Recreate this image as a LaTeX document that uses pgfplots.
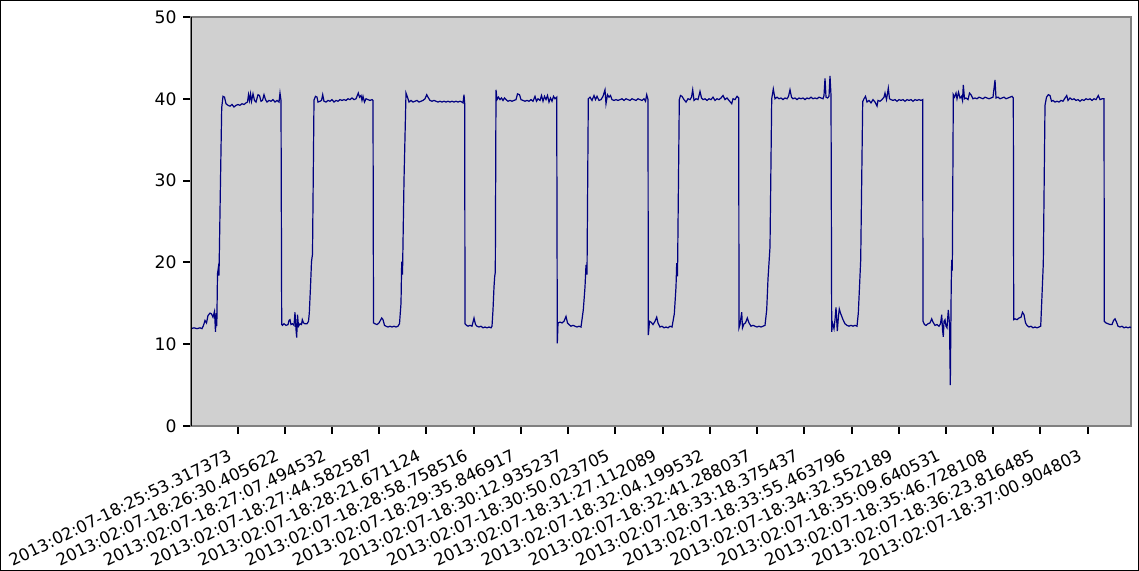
\documentclass[border=0pt]{standalone}
\usepackage{fontspec}
\setmainfont{DejaVu Sans}
\usepackage{pgfplots}
\pgfplotsset{compat=1.18}
\definecolor{bgc}{RGB}{208,208,208}
\definecolor{frm}{RGB}{128,128,128}
\definecolor{ln}{RGB}{0,0,128}
\begin{document}
\begin{tikzpicture}
\begin{axis}[
  at={(95.5pt,72.5pt)}, anchor=south west,
  scale only axis, width=470pt, height=204.5pt,
  xmin=191, xmax=1131, ymin=0, ymax=50,
  axis background/.style={fill=bgc},
  axis line style={draw=frm, line width=1pt},
  tick style={black, line width=1pt},
  major tick length=4pt,
  tick align=outside,
  xtick pos=bottom, ytick pos=left,
  ytick={0,10,...,50},
  xtick={237.5,284.73,331.96,379.19,426.42,473.65,520.88,568.11,615.34,662.57,709.8,757.03,804.26,851.49,898.72,945.95,993.18,1040.41,1087.64},
  xticklabels={2013:02:07-18:25:53.317373,2013:02:07-18:26:30.405622,2013:02:07-18:27:07.494532,2013:02:07-18:27:44.582587,2013:02:07-18:28:21.671124,2013:02:07-18:28:58.758516,2013:02:07-18:29:35.846917,2013:02:07-18:30:12.935237,2013:02:07-18:30:50.023705,2013:02:07-18:31:27.112089,2013:02:07-18:32:04.199532,2013:02:07-18:32:41.288037,2013:02:07-18:33:18.375437,2013:02:07-18:33:55.463796,2013:02:07-18:34:32.552189,2013:02:07-18:35:09.640531,2013:02:07-18:35:46.728108,2013:02:07-18:36:23.816485,2013:02:07-18:37:00.904803},
  /pgf/number format/assume math mode=true,
  yticklabel style={font=\fontsize{8.6}{10}\selectfont, xshift=-3pt, anchor=east, inner sep=0pt},
  xticklabel style={font=\fontsize{8.3}{10}\selectfont, xshift=-5pt, yshift=-7pt, rotate=26, anchor=north east, inner sep=0pt},
]
\addplot[ln, line width=0.6pt] coordinates {
(191,11.9)(194,12.0)(197,11.9)(200,12.0)(202,11.9)(203.5,12.3)(205,12.9)(206.5,12.6)(208,13.5)(210,13.8)(211.5,13.7)(213,13.3)(214.5,14.0)(215.5,11.5)(216.2,13.8)(216.8,12.2)(217.5,18.6)(218.3,19.3)(219,18.4)(220.5,30)(221.7,38.9)(223,40.3)(224.5,40.2)(226,39.4)(228,39.2)(230,39.1)(232,39.3)(234,39.0)(236,39.2)(238,39.3)(240,39.2)(242,39.4)(244,39.3)(246,39.5)(247.5,39.6)(248.5,40.5)(249.5,39.8)(250.5,40.6)(251.5,39.7)(253,40.6)(254.5,39.8)(256,39.6)(258,40.5)(259.5,40.4)(261,39.7)(262.5,39.8)(264,40.5)(265.5,39.9)(267,39.6)(269,39.8)(271,39.7)(273,39.9)(275,39.6)(277,39.8)(279,39.6)(280,40.7)(281,39.8)(281.7,12.4)
(282.5,12.3)(284,12.5)(286,12.3)(288,12.4)(289,12.9)(290,13.0)(291,12.4)(292.5,12.5)(294,12.3)(295,13.9)(296,11.8)(296.7,10.8)(297.5,13.6)(298.5,12.2)(300,12.5)(301.5,12.4)(302.3,13.0)(303.5,12.6)(305,12.5)(307,12.5)(308.5,12.8)(309.3,13.8)(310.5,17)(311.5,20.1)(312.5,21)(314,39.85)(315.5,40.3)(317,40.2)(318,39.6)(320,39.7)(321.5,39.8)(322.7,40.5)(324,39.7)(326,39.6)(328,39.8)(330,39.7)(332,39.9)(334,39.6)(336,39.8)(338,39.7)(340,39.9)(342,39.8)(344,39.9)(346,39.8)(348,40.0)(350,39.9)(352,40.1)(354,39.9)(356,40.0)(358.3,40.7)(359.5,40.2)(361,40.4)(362,39.8)(363,40.3)(364.5,39.6)(366,40.0)(368,39.9)(370,39.8)(372,39.9)(373,39.8)(373.5,12.6)
(375,12.5)(377,12.4)(379,12.6)(381.7,13.2)(383,13.0)(384.5,12.3)(386,12.2)(388,12.1)(390,12.2)(392,12.1)(394,12.2)(396,12.1)(398,12.2)(399.5,12.5)(401,15)(401.7,20.1)(402.5,18.5)(404,30)(406,40.7)(407.5,40.2)(409,39.6)(411,39.8)(413,39.6)(415,39.7)(417,39.8)(419,39.6)(421,39.7)(423,39.8)(425,40.0)(426.7,40.5)(428,40.2)(430,39.8)(432,39.7)(434,39.8)(436,39.7)(438,39.6)(440,39.7)(442,39.6)(444,39.7)(446,39.6)(448,39.7)(450,39.6)(452,39.7)(454,39.6)(456,39.7)(458,39.6)(460,39.7)(462,39.6)(463,39.5)(464,40.5)(464.7,39.4)(465,12.5)
(466.5,12.3)(468,12.2)(470,12.3)(472,12.2)(474,13.2)(475.5,12.4)(477,12.2)(479,12.1)(481,12.2)(483,12.0)(485,12.1)(487,12.0)(489,12.1)(491,12.0)(492,12.2)(493,14.2)(494,17)(494.7,18.3)(495.3,18.8)(496,41.1)(497,39.9)(498.5,40.2)(500,39.9)(501.5,40.1)(503,39.8)(504.5,40.1)(506,39.9)(508,39.7)(510,39.8)(512,39.7)(514,39.8)(516,39.9)(517.5,40.6)(519.5,40.5)(521,39.9)(523,39.8)(525,39.7)(527,39.8)(529,39.7)(531,39.9)(533,39.7)(535,40.3)(536.5,39.7)(538,40.0)(540,39.8)(541.5,40.4)(543,39.7)(544.5,40.3)(546,39.9)(547.5,40.4)(549,39.6)(550.5,40.1)(552,39.7)(553.5,40.3)(555,40.0)(556.7,40.2)
(557.3,10.1)(558,12.6)(560,12.7)(562,12.6)(564,12.8)(566,13.4)(567.5,12.6)(569,12.4)(571,12.2)(573,12.3)(575,12.2)(577,12.1)(579,12.2)(581,12.1)(583.3,14.2)(585,17)(586,19.7)(587,18.5)(588.3,40.0)(590,40.2)(592,39.8)(594,40.4)(595.5,39.9)(597,40.3)(599,39.8)(601,39.9)(603,40.3)(605,41.1)(606,39.4)(607.5,40.5)(609,40.2)(610.5,40.4)(612,39.9)(614,39.8)(616,39.9)(618,39.8)(620,39.9)(622,40.0)(624,39.8)(626,40.0)(628,39.9)(630,39.8)(632,40.0)(634,39.9)(636,39.8)(638,40.0)(640,39.9)(642,39.8)(644,40.0)(645.5,39.7)(646.7,40.5)(648,39.9)(648.3,11.1)
(649.5,12.8)(651,12.7)(653,12.4)(655,12.8)(656.7,13.3)(658,12.6)(660,12.1)(662,12.2)(664,12.0)(666,12.1)(668,12.0)(670,12.2)(672,12.1)(674.3,13.7)(676,17)(676.7,19.9)(677.5,18.3)(679.3,39.9)(680.5,40.4)(682,40.3)(684,39.9)(686,39.6)(688,40.0)(690,39.9)(691.5,40.2)(692.7,41.1)(694,39.8)(696,40.0)(698,39.9)(700,40.9)(701.5,40.1)(703,39.9)(705,40.0)(707,39.8)(709,40.0)(711,39.9)(713,40.2)(715,39.8)(717,40.0)(719,39.9)(721,40.1)(723,40.4)(725,39.9)(727,40.1)(729,39.8)(731.7,39.4)(733,40.0)(735,39.9)(737,40.3)(738.7,40.1)(739,12.0)
(740,12.4)(741.7,13.9)(742.5,12.0)(744,12.5)(745.5,12.6)(747.3,13.2)(749,12.6)(751,12.2)(753,12.3)(755,12.2)(757,12.1)(759,12.2)(761,12.1)(763,12.2)(765,12.3)(766.7,14.2)(768,18)(770,21.9)(771.7,40.0)(773.3,41.2)(775,40.0)(777,40.2)(779,40.0)(781,40.1)(783,39.9)(785,40.1)(787,40.0)(788.5,40.3)(790,41.1)(791.5,40.2)(793,40.0)(795,40.1)(797,39.9)(799,40.1)(801,40.0)(803,40.1)(805,39.9)(807,40.1)(809,40.0)(811,40.2)(813,40.0)(815,40.1)(817,40.0)(819,40.2)(821,40.1)(823,40.0)(824,40.4)(825,42.5)(826,40.2)(827.5,40.1)(829,40.3)(830,42.8)(831,40.4)(831.7,11.5)
(832.5,12.6)(834,11.9)(835,13.0)(836,14.5)(837.3,11.6)(838.5,13.5)(839.3,14.3)(840.5,13.8)(843,13.0)(845,12.5)(847,12.3)(849,12.2)(851,12.3)(853,12.2)(855,12.3)(857,12.2)(858.3,13.8)(859.5,17)(860.7,20.3)(861.7,30)(862.7,39.65)(864,40.0)(865.5,40.3)(867,39.6)(869,39.8)(871,39.5)(873,39.9)(875,39.6)(877,39.1)(878,39.8)(880,39.7)(882,39.9)(884,40.2)(885,40.7)(886.5,39.9)(888.3,41.3)(889.5,40.0)(891,39.9)(893,39.8)(895,39.9)(897,39.7)(899,39.9)(901,39.8)(903,39.9)(905,39.7)(907,39.9)(909,39.8)(911,39.9)(913,39.7)(915,39.9)(917,39.8)(919,39.9)(921,39.8)(922.7,39.9)(923,12.8)
(924.5,12.4)(926,12.3)(928,12.5)(930,12.6)(931.7,13.1)(933,12.7)(935,12.3)(937,12.4)(939,12.2)(940.5,12.5)(941.7,13.6)(942.5,11.8)(943.3,10.9)(944,12.8)(945,13.0)(946,12.2)(947,12.0)(948.3,14.2)(949.5,12.5)(950.3,5.0)(951.2,17)(951.7,20.3)(952.3,19.0)(953.3,40.5)(954.5,40.2)(956,40.7)(957,40.0)(958.5,40.8)(960,40.1)(961.5,40.3)(962.5,39.8)(963.3,41.7)(964.5,40.0)(966,40.1)(968,39.9)(969.5,40.7)(971,40.5)(973,40.0)(975,40.1)(977,40.0)(979,40.2)(981,40.1)(983,40.0)(985,40.2)(987,40.1)(989,40.0)(991,40.1)(993,40.2)(995,42.3)(996,40.1)(998,40.2)(1000,40.0)(1002,40.1)(1004,40.2)(1006,40.0)(1008,40.1)(1010,40.2)(1012,40.3)(1013.3,40.1)(1013.7,13.0)
(1015,13.1)(1017,13.0)(1019,13.2)(1021,13.3)(1022.5,13.9)(1024,13.6)(1025.5,12.6)(1027,12.3)(1029,12.1)(1031,12.2)(1033,12.0)(1035,12.1)(1037,12.0)(1039,12.1)(1040.7,12.2)(1042,16)(1043.3,19.9)(1045,39.2)(1046.5,40.2)(1048.3,40.5)(1050,40.4)(1051.5,39.7)(1053,39.8)(1055,39.6)(1057,39.7)(1059,39.6)(1061,39.8)(1063,39.7)(1064.5,40.0)(1066.7,40.4)(1068,39.8)(1070,40.1)(1072,39.9)(1074,40.0)(1076,39.8)(1078,39.9)(1080,39.7)(1082,39.9)(1084,39.8)(1086,40.0)(1088,39.9)(1090,40.0)(1092,39.8)(1094,40.0)(1096,39.9)(1098.3,40.4)(1100,39.9)(1102,40.0)(1104,40.0)(1104.3,12.8)
(1106,12.6)(1108,12.5)(1110,12.4)(1112,12.4)(1113.5,12.9)(1115,13.1)(1116.5,12.7)(1118,12.2)(1120,12.1)(1122,12.2)(1124,12.0)(1126,12.1)(1128,12.0)(1130,12.1)(1131,12.0)
};
\draw[black, line width=1pt] (rel axis cs:0,0) -- (rel axis cs:0,1);
\end{axis}
\draw[black, line width=0.7pt] (0.35pt,0.35pt) rectangle (569.15pt,285.15pt);
\pgfresetboundingbox
\useasboundingbox (0,0) rectangle (569.5pt,285.5pt);
\end{tikzpicture}
\end{document}
